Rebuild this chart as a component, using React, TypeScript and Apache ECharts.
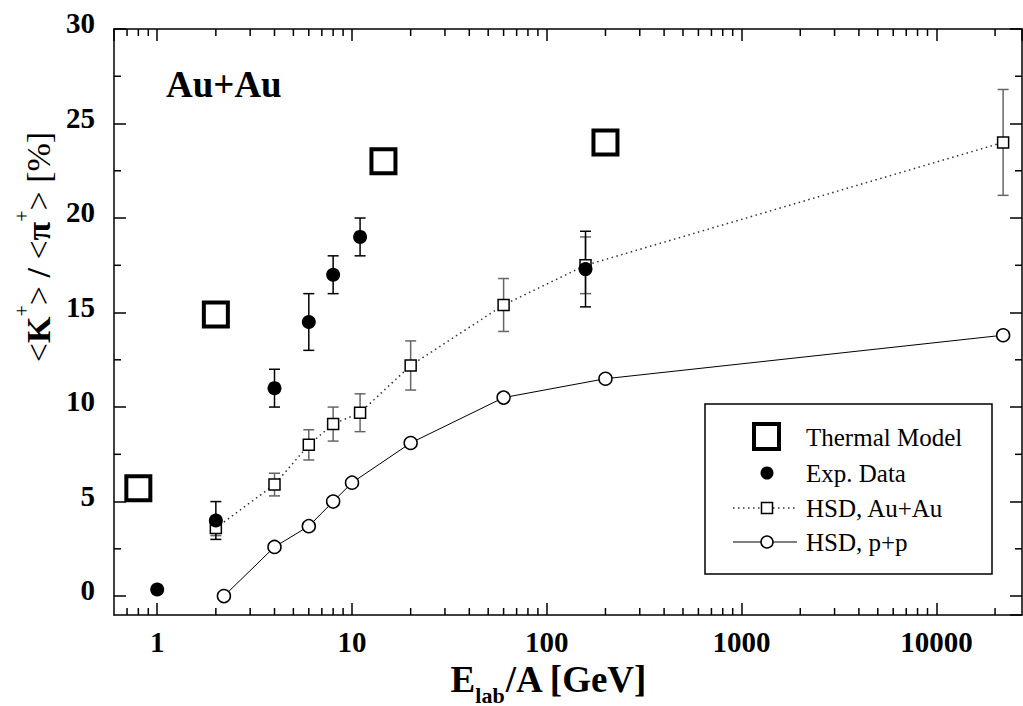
import React, { useEffect, useRef } from 'react';
import * as echarts from 'echarts';

// ---- data ----
const thermalX = [0.8, 2, 14.5, 200];
const thermalY = [5.7, 14.9, 23.0, 24.0];

const expX = [1, 2, 4, 6, 8, 11, 158];
const expY = [0.35, 4.0, 11.0, 14.5, 17.0, 19.0, 17.3];
const expErr = [0, 1.0, 1.0, 1.5, 1.0, 1.0, 2.0];

const hsdAuX = [2, 4, 6, 8, 11, 20, 60, 158, 22000];
const hsdAuY = [3.6, 5.9, 8.0, 9.1, 9.7, 12.2, 15.4, 17.5, 24.0];
const hsdAuErr = [0.4, 0.6, 0.8, 0.9, 1.0, 1.3, 1.4, 1.5, 2.8];

const hsdPPX = [2.2, 4, 6, 8, 10, 20, 60, 200, 22000];
const hsdPPY = [0.0, 2.6, 3.7, 5.0, 6.0, 8.1, 10.5, 11.5, 13.8];

const X_MIN = 0.6;
const X_MAX = 27500;
const Y_MIN = -1;
const Y_MAX = 30;

const xMinorTicks = [
  0.7, 0.8, 0.9,
  2, 3, 4, 5, 6, 7, 8, 9,
  20, 30, 40, 50, 60, 70, 80, 90,
  200, 300, 400, 500, 600, 700, 800, 900,
  2000, 3000, 4000, 5000, 6000, 7000, 8000, 9000,
  20000,
];
const yMinorTicks = [2.5, 7.5, 12.5, 17.5, 22.5, 27.5];

const seriesNames = ['Thermal Model', 'Exp. Data', 'HSD, Au+Au', 'HSD, p+p'];
const panelLabel = 'Au+Au';

const FONT = '"Liberation Serif", "Times New Roman", serif';

function errData(xs: number[], ys: number[], es: number[]) {
  const out: number[][] = [];
  xs.forEach((x, i) => {
    if (es[i] > 0) out.push([x, ys[i] - es[i], ys[i] + es[i]]);
  });
  return out;
}

function makeErrRender(color: string, lw: number, capHalf: number) {
  return (params: any, api: any) => {
    const x = api.value(0);
    const lo = api.coord([x, api.value(1)]);
    const hi = api.coord([x, api.value(2)]);
    const style = { stroke: color, lineWidth: lw };
    return {
      type: 'group',
      children: [
        { type: 'line', shape: { x1: lo[0], y1: lo[1], x2: hi[0], y2: hi[1] }, style },
        { type: 'line', shape: { x1: lo[0] - capHalf, y1: lo[1], x2: lo[0] + capHalf, y2: lo[1] }, style },
        { type: 'line', shape: { x1: hi[0] - capHalf, y1: hi[1], x2: hi[0] + capHalf, y2: hi[1] }, style },
      ],
    };
  };
}

const axisLineStyle = { color: '#000', width: 1.5 };

export default function App() {
  const ref = useRef<HTMLDivElement>(null);

  useEffect(() => {
    if (!ref.current) return;
    const chart = echarts.init(ref.current, null, { renderer: 'svg' });

    const minorData = [
      ...xMinorTicks.map((v) => [v, Y_MIN, 0]),
      ...yMinorTicks.map((v) => [X_MIN, v, 1]),
    ];

    const option: any = {
      animation: false,
      backgroundColor: '#fff',
      grid: { left: 114, right: 1, top: 29, bottom: 91, show: false, containLabel: false, outerBoundsMode: 'none' },
      xAxis: [
        {
          type: 'log',
          logBase: 10,
          min: X_MIN,
          max: X_MAX,
          position: 'bottom',
          axisLine: { show: true, onZero: false, lineStyle: axisLineStyle },
          axisTick: { show: true, inside: true, length: 12, lineStyle: axisLineStyle },
          axisLabel: {
            showMinLabel: false,
            showMaxLabel: false,
            margin: 12,
            color: '#000',
            fontFamily: FONT,
            fontWeight: 'bold',
            fontSize: 29,
            formatter: (v: number) => {
              const l = Math.log10(v);
              return Math.abs(l - Math.round(l)) < 1e-6 ? String(Math.round(v)) : '';
            },
          },
          splitLine: { show: false },
          name: '{b|E}{sub|lab}{b|/A [GeV]}',
          nameLocation: 'middle',
          nameGap: 46,
          nameTextStyle: {
            color: '#000',
            fontFamily: FONT,
            fontWeight: 'bold',
            fontSize: 37,
            padding: [0, 38, 0, 0],
            rich: {
              b: { fontFamily: FONT, fontWeight: 'bold', fontSize: 37, lineHeight: 37, verticalAlign: 'top', color: '#000' },
              sub: { fontFamily: FONT, fontWeight: 'bold', fontSize: 22, lineHeight: 22, verticalAlign: 'top', padding: [23, 0, 0, 0], color: '#000' },
            },
          },
        },
        {
          type: 'log',
          logBase: 10,
          min: X_MIN,
          max: X_MAX,
          position: 'top',
          axisLine: { show: true, onZero: false, lineStyle: axisLineStyle },
          axisTick: { show: true, inside: true, length: 12, lineStyle: axisLineStyle },
          axisLabel: { show: false },
          splitLine: { show: false },
        },
      ],
      yAxis: [
        {
          type: 'value',
          min: Y_MIN,
          max: Y_MAX,
          splitNumber: 6,
          position: 'left',
          axisLine: { show: true, onZero: false, lineStyle: axisLineStyle },
          axisTick: { show: true, inside: true, length: 12, lineStyle: axisLineStyle },
          axisLabel: {
            showMinLabel: false,
            margin: 19,
            color: '#000',
            fontFamily: FONT,
            fontWeight: 'bold',
            fontSize: 29,
            formatter: (v: number) => (v < 0 ? '' : `{n|${v}}`),
            rich: {
              n: { fontFamily: FONT, fontWeight: 'bold', fontSize: 29, lineHeight: 29, padding: [0, 0, 12, 0], color: '#000' },
            },
          },
          splitLine: { show: false },
          name: '{t|<}{b|K}{s|+}{t|>}{b| / }{t|<}{b|π}{s|+}{t|>}{t| [%]}',
          nameLocation: 'middle',
          nameGap: 66,
          nameTextStyle: {
            color: '#000',
            fontFamily: FONT,
            fontSize: 34,
            padding: [0, 0, 0, 150],
            rich: {
              t: { fontFamily: FONT, fontWeight: 'normal', fontSize: 34, lineHeight: 34, verticalAlign: 'top', padding: [9, 0, 0, 0], color: '#000' },
              b: { fontFamily: FONT, fontWeight: 'bold', fontSize: 34, lineHeight: 34, verticalAlign: 'top', padding: [9, 0, 0, 0], color: '#000' },
              s: { fontFamily: FONT, fontWeight: 'normal', fontSize: 20, lineHeight: 20, verticalAlign: 'top', color: '#000' },
            },
          },
        },
        {
          type: 'value',
          min: Y_MIN,
          max: Y_MAX,
          splitNumber: 6,
          position: 'right',
          axisLine: { show: true, onZero: false, lineStyle: axisLineStyle },
          axisTick: { show: true, inside: true, length: 12, lineStyle: axisLineStyle },
          axisLabel: { show: false },
          splitLine: { show: false },
        },
      ],
      series: [
        {
          type: 'custom',
          name: 'hsd-err',
          silent: true,
          xAxisIndex: 0,
          yAxisIndex: 0,
          encode: { x: 0, y: [1, 2] },
          data: errData(hsdAuX, hsdAuY, hsdAuErr),
          renderItem: makeErrRender('#666', 1.5, 5.5),
          z: 2,
        },
        {
          type: 'custom',
          name: 'exp-err',
          silent: true,
          xAxisIndex: 0,
          yAxisIndex: 0,
          encode: { x: 0, y: [1, 2] },
          data: errData(expX, expY, expErr),
          renderItem: makeErrRender('#000', 1.5, 5.5),
          z: 2,
        },
        {
          type: 'line',
          name: seriesNames[2],
          silent: true,
          data: hsdAuX.map((x, i) => [x, hsdAuY[i]]),
          symbol: 'rect',
          symbolSize: 11,
          showSymbol: true,
          itemStyle: { color: '#fff', borderColor: '#000', borderWidth: 1.5, opacity: 1 },
          lineStyle: { color: '#333', width: 1.5, type: [1.5, 3.5] },
          z: 3,
        },
        {
          type: 'line',
          name: seriesNames[3],
          silent: true,
          data: hsdPPX.map((x, i) => [x, hsdPPY[i]]),
          symbol: 'circle',
          symbolSize: 13,
          showSymbol: true,
          itemStyle: { color: '#fff', borderColor: '#000', borderWidth: 1.5, opacity: 1 },
          lineStyle: { color: '#000', width: 1 },
          z: 3,
        },
        {
          type: 'scatter',
          name: seriesNames[1],
          silent: true,
          data: expX.map((x, i) => [x, expY[i]]),
          symbol: 'circle',
          symbolSize: 14,
          itemStyle: { color: '#000', opacity: 1 },
          z: 4,
        },
        {
          type: 'scatter',
          name: seriesNames[0],
          silent: true,
          data: thermalX.map((x, i) => [x, thermalY[i]]),
          symbol: 'rect',
          symbolSize: 24,
          itemStyle: { color: '#fff', borderColor: '#000', borderWidth: 4, opacity: 1 },
          z: 4,
        },
        {
          type: 'custom',
          name: 'minor-ticks',
          silent: true,
          xAxisIndex: 0,
          yAxisIndex: 0,
          encode: { x: 0, y: 1 },
          data: minorData,
          renderItem: (params: any, api: any) => {
            const kind = api.value(2);
            const v = kind === 0 ? api.value(0) : api.value(1);
            const style = { stroke: '#000', lineWidth: 1.5 };
            if (kind === 0) {
              const b = api.coord([v, Y_MIN]);
              const t = api.coord([v, Y_MAX]);
              return {
                type: 'group',
                children: [
                  { type: 'line', shape: { x1: b[0], y1: b[1], x2: b[0], y2: b[1] - 7 }, style },
                  { type: 'line', shape: { x1: t[0], y1: t[1], x2: t[0], y2: t[1] + 7 }, style },
                ],
              };
            }
            const l = api.coord([X_MIN, v]);
            const r = api.coord([X_MAX, v]);
            return {
              type: 'group',
              children: [
                { type: 'line', shape: { x1: l[0], y1: l[1], x2: l[0] + 7, y2: l[1] }, style },
                { type: 'line', shape: { x1: r[0], y1: r[1], x2: r[0] - 7, y2: r[1] }, style },
              ],
            };
          },
          z: 5,
        },
      ],
      graphic: [
        {
          type: 'text',
          left: 166,
          top: 66,
          z: 50,
          style: { text: panelLabel, fill: '#000', fontFamily: FONT, fontWeight: 'bold', fontSize: 37 },
        },
        {
          type: 'group',
          z: 100,
          children: [
            { type: 'rect', shape: { x: 705, y: 404, width: 287, height: 170 }, style: { fill: '#fff', stroke: '#000', lineWidth: 1.5 } },
            { type: 'rect', shape: { x: 754, y: 424, width: 25, height: 25 }, style: { fill: '#fff', stroke: '#000', lineWidth: 4 } },
            { type: 'text', x: 806, y: 437, style: { text: seriesNames[0], fill: '#000', fontFamily: FONT, fontSize: 25, verticalAlign: 'middle' } },
            { type: 'circle', shape: { cx: 767, cy: 473, r: 6.5 }, style: { fill: '#000' } },
            { type: 'text', x: 806, y: 473, style: { text: seriesNames[1], fill: '#000', fontFamily: FONT, fontSize: 25, verticalAlign: 'middle' } },
            { type: 'line', shape: { x1: 733, y1: 508, x2: 797, y2: 508 }, style: { stroke: '#333', lineWidth: 1.5, lineDash: [1.5, 3.5] } },
            { type: 'rect', shape: { x: 761.5, y: 502.5, width: 11, height: 11 }, style: { fill: '#fff', stroke: '#000', lineWidth: 1.5 } },
            { type: 'text', x: 806, y: 508, style: { text: seriesNames[2], fill: '#000', fontFamily: FONT, fontSize: 25, verticalAlign: 'middle' } },
            { type: 'line', shape: { x1: 733, y1: 542, x2: 797, y2: 542 }, style: { stroke: '#000', lineWidth: 1 } },
            { type: 'circle', shape: { cx: 767, cy: 542, r: 6 }, style: { fill: '#fff', stroke: '#000', lineWidth: 1.5 } },
            { type: 'text', x: 806, y: 542, style: { text: seriesNames[3], fill: '#000', fontFamily: FONT, fontSize: 25, verticalAlign: 'middle' } },
          ],
        },
      ],
    };

    chart.setOption(option);
    return () => {
      chart.dispose();
    };
  }, []);

  return (
    <div
      ref={ref}
      style={{ position: 'absolute', left: 0, top: 0, width: 1023, height: 706, background: '#fff' }}
    />
  );
}
